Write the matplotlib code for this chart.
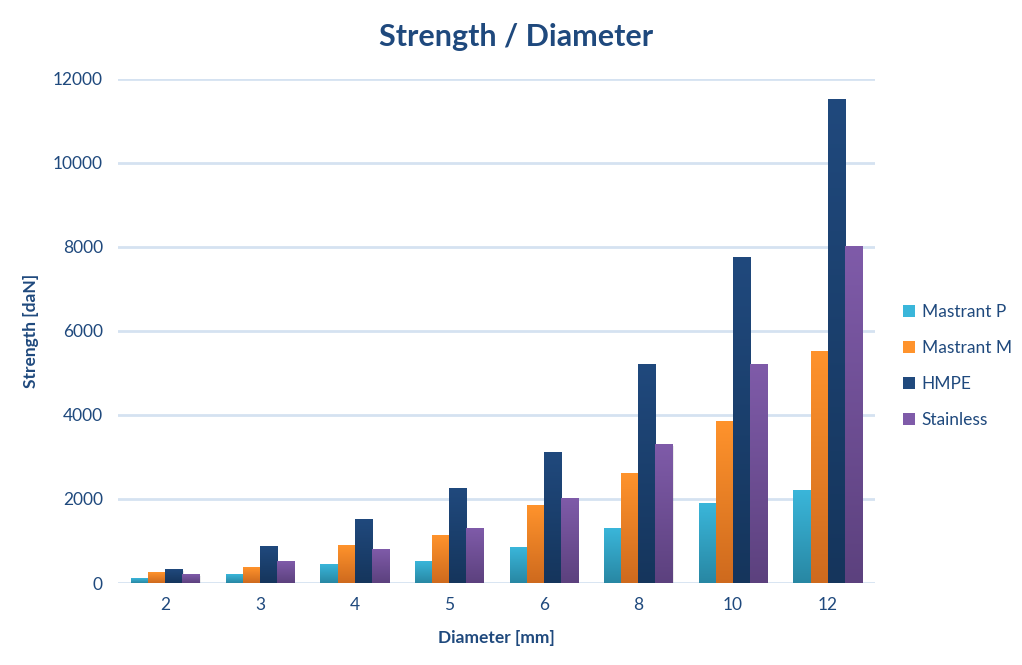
import numpy as np
import matplotlib.pyplot as plt
from matplotlib.colors import LinearSegmentedColormap
from matplotlib.patches import Patch

plt.rcParams['font.family'] = ['Lato', 'DejaVu Sans']

diameters = ['2', '3', '4', '5', '6', '8', '10', '12']
mastrant_p = [100, 200, 450, 520, 850, 1300, 1900, 2200]
mastrant_m = [260, 380, 900, 1140, 1850, 2600, 3850, 5500]
hmpe = [330, 880, 1500, 2260, 3100, 5200, 7740, 11500]
stainless = [210, 500, 800, 1300, 2000, 3300, 5200, 8000]

series = [
    ('Mastrant P', mastrant_p, '#3AB6DA', '#2887A3'),
    ('Mastrant M', mastrant_m, '#FF932C', '#CE6A1E'),
    ('HMPE', hmpe, '#20497D', '#15355C'),
    ('Stainless', stainless, '#7F5BA9', '#5C417E'),
]

TEXT = '#1F497D'
GRID = '#D5E2F1'

fig = plt.figure(figsize=(10.22, 6.65), dpi=100)
ax = fig.add_axes([0.1155, 0.1233, 0.7405, 0.7582])

x = np.arange(len(diameters))
width = 0.18
handles = []
for i, (name, vals, top, bottom) in enumerate(series):
    offs = (i - 1.5) * width
    bars = ax.bar(x + offs, vals, width, color='none', zorder=3)
    cmap = LinearSegmentedColormap.from_list(name, [bottom, top])
    grad = np.linspace(0, 1, 256).reshape(-1, 1)
    for b in bars:
        x0, y0 = b.get_x(), b.get_y()
        w, h = b.get_width(), b.get_height()
        # soft shadow
        ax.bar(x0 + w / 2 + 0.012, h, w, bottom=-40, color='#000000',
               alpha=0.08, zorder=2, linewidth=0)
        ax.imshow(grad, extent=[x0, x0 + w, y0, y0 + h], origin='lower',
                  cmap=cmap, aspect='auto', zorder=3, interpolation='bilinear')
    handles.append(Patch(facecolor=top, edgecolor='none', label=name))

ax.set_xlim(-0.5, len(diameters) - 0.5)
ax.set_ylim(0, 12000)
ax.set_yticks(np.arange(0, 12001, 2000))
ax.set_xticks(x)
ax.set_xticklabels(diameters)
ax.tick_params(length=0, labelsize=12.5, labelcolor=TEXT)
ax.tick_params(axis='y', pad=11)
ax.tick_params(axis='x', pad=10)
ax.yaxis.grid(True, color=GRID, linewidth=2, zorder=0)
ax.set_axisbelow(True)
for s in ax.spines.values():
    s.set_visible(False)

ax.set_xlabel('Diameter [mm]', fontsize=12.5, fontweight='bold', color=TEXT, labelpad=12)
ax.set_ylabel('Strength [daN]', fontsize=12.5, fontweight='bold', color=TEXT, labelpad=10)
fig.suptitle('Strength / Diameter', x=0.505, y=0.965, fontsize=22,
             fontweight='bold', color=TEXT)

leg = fig.legend(handles=handles, loc='center left', bbox_to_anchor=(0.868, 0.45),
                 frameon=False, fontsize=12.5, labelspacing=1.15,
                 handlelength=0.7, handleheight=0.7, handletextpad=0.4)
for t in leg.get_texts():
    t.set_color(TEXT)

fig.savefig('out.png', dpi=100)
